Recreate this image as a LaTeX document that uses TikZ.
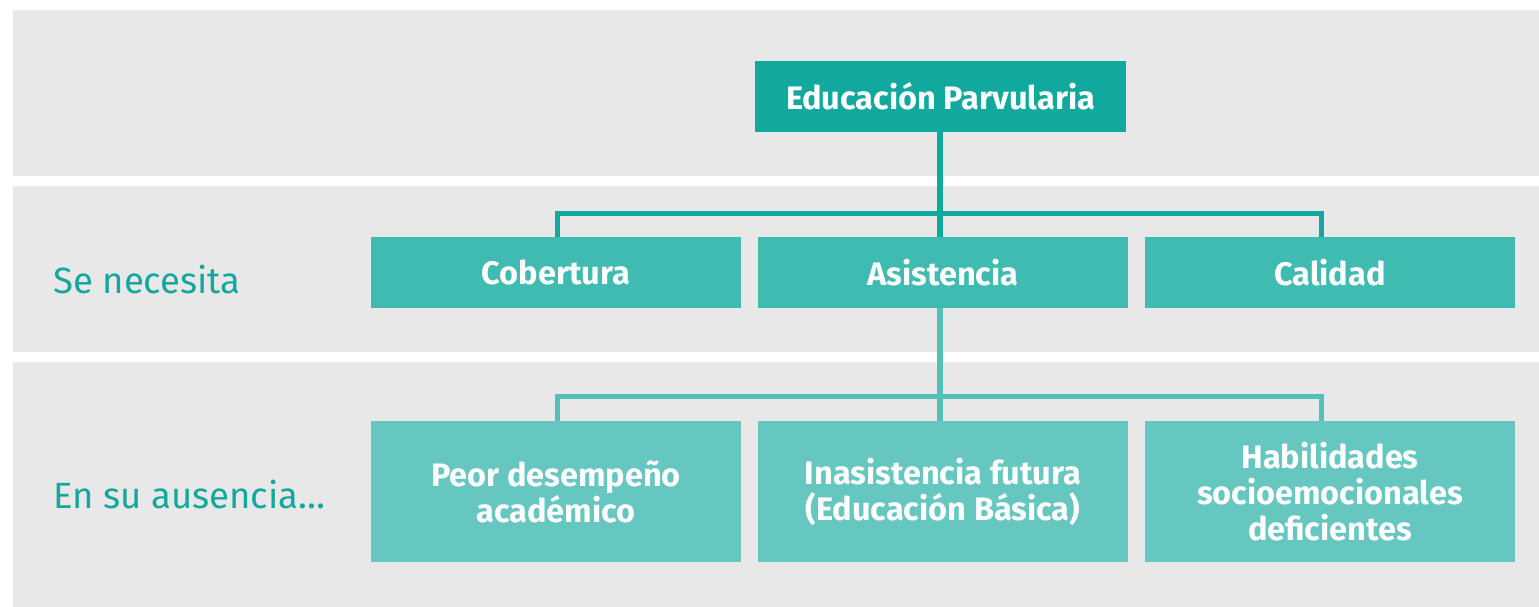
\documentclass[tikz,border=0pt]{standalone}
\usepackage{fontspec}
\setmainfont{Fira Sans}
\definecolor{bandgray}{HTML}{E8E8E8}
\definecolor{tealA}{HTML}{11A99E}
\definecolor{tealB}{HTML}{40BBB1}
\definecolor{tealC}{HTML}{66C7C0}
\definecolor{lineB}{HTML}{52C1B8}
\definecolor{labelteal}{HTML}{13A89E}
\begin{document}
\begin{tikzpicture}[x=1pt,y=-1pt,
  band/.style={fill=bandgray,draw=none},
  box/.style={draw=none,text=white,align=center,inner sep=0pt,
    font=\fontsize{32.5}{36}\selectfont\bfseries},
  topbox/.style={box,fill=tealA,minimum width=371pt,minimum height=71pt},
  midbox/.style={box,fill=tealB,minimum width=370pt,minimum height=71pt},
  lowbox/.style={box,fill=tealC,minimum width=370pt,minimum height=141pt},
  rowlabel/.style={anchor=west,inner sep=0pt,text=labelteal,
    font=\fontsize{36.5}{40}\selectfont},
  connA/.style={draw=tealA,line width=5.5pt},
  connB/.style={draw=lineB,line width=5.5pt}]
\useasboundingbox (0,0) rectangle (1539,607);
\fill[white] (0,0) rectangle (1539,607);
% bands
\path[band] (13,10) rectangle (1539,176);
\path[band] (13,186) rectangle (1539,352);
\path[band] (13,362) rectangle (1539,607);
% connector bend points
\coordinate (ja) at (557.5,213.5);
\coordinate (jb) at (940,213.5);
\coordinate (jc) at (1321.5,213.5);
\coordinate (ka) at (557.5,396.5);
\coordinate (kb) at (940,396.5);
\coordinate (kc) at (1321.5,396.5);
% boxes
\node[topbox] (top) at (940.5,96.5) {Educación Parvularia};
\node[midbox] (cob) at (556,272.5) {Cobertura};
\node[midbox] (asi) at (943,272.5) {Asistencia};
\node[midbox] (cal) at (1330,272.5) {Calidad};
\node[lowbox] (peor) at (556,491.5) {Peor desempeño\\académico};
\node[lowbox] (inas) at (943,491.5) {Inasistencia futura\\(Educación Básica)};
\node[lowbox] (hab) at (1330,491.5) {Habilidades\\socioemocionales\\deficientes};
% connectors
\draw[connA] (jb |- top.south) -- (jb |- asi.north);
\draw[connA] (ja |- cob.north) -- (ja) -- (jc) -- (jc |- cal.north);
\draw[connB] (kb |- asi.south) -- (kb |- inas.north);
\draw[connB] (ka |- peor.north) -- (ka) -- (kc) -- (kc |- hab.north);
% row labels
\node[rowlabel] (lab1) at (53,279) {Se necesita};
\node[rowlabel] (lab2) at (53,494) {En su ausencia…};
\end{tikzpicture}
\end{document}
